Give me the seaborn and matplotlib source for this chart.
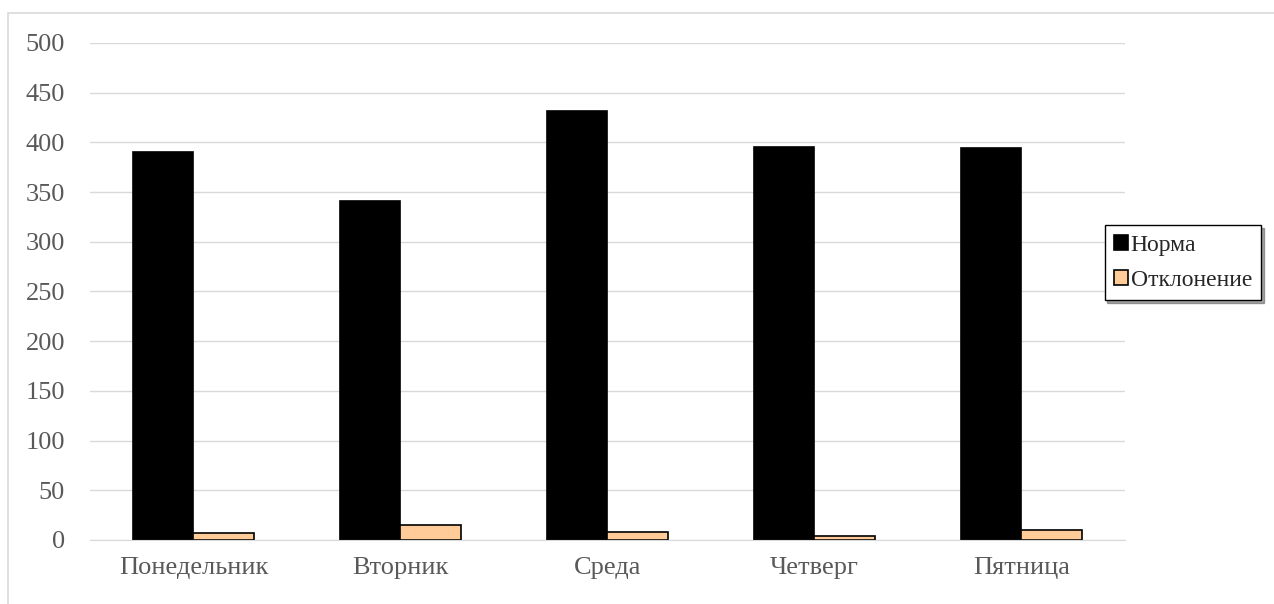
import pandas as pd
import matplotlib
matplotlib.use("Agg")
import matplotlib.pyplot as plt
import seaborn as sns
from matplotlib.patches import Rectangle

# данные с графика
days = ["Понедельник", "Вторник", "Среда", "Четверг", "Пятница"]
norma = [390, 341, 431, 395, 394]
otkl = [7, 15, 8, 4, 10]
series = ["Норма", "Отклонение"]
colors = ["#000000", "#FFCC99"]
yticks = [0, 50, 100, 150, 200, 250, 300, 350, 400, 450, 500]

df = pd.DataFrame({
    "day": days * 2,
    "value": norma + otkl,
    "series": [series[0]] * len(days) + [series[1]] * len(days),
})

sns.set_style("white")
plt.rcParams["font.family"] = ["Liberation Serif", "DejaVu Serif"]

fig = plt.figure(figsize=(12.74, 6.04), dpi=100)
ax = fig.add_axes([0.0706, 0.106, 0.8124, 0.823])

sns.barplot(data=df, x="day", y="value", hue="series", palette=colors,
            saturation=1, width=0.585, edgecolor="black", linewidth=1.2,
            ax=ax, legend=True)

ax.set_ylim(0, 500)
ax.set_yticks(yticks)
ax.yaxis.grid(True, color="#D9D9D9", linewidth=1)
ax.set_axisbelow(True)
ax.set_xlabel("")
ax.set_ylabel("")
for s in ["top", "right", "left"]:
    ax.spines[s].set_visible(False)
ax.spines["bottom"].set_color("#D9D9D9")
ax.tick_params(axis="both", length=0, labelsize=19, labelcolor="#595959")
ax.tick_params(axis="y", pad=18)
ax.tick_params(axis="x", pad=12)

handles, labels = ax.get_legend_handles_labels()
ax.legend(handles, labels, loc="upper left", bbox_to_anchor=(0.867, 0.627),
          bbox_transform=fig.transFigure, frameon=True, fancybox=False,
          shadow=True, edgecolor="black", fontsize=17,
          handlelength=0.6, handleheight=0.6, handletextpad=0.1,
          labelspacing=0.6, borderpad=0.4, borderaxespad=0)
ax.get_legend().get_frame().set_linewidth(1)

# рамка области диаграммы
fig.patches.append(Rectangle((8 / 1274, -0.1), 1.2, 1 - 13 / 604 + 0.1,
                             transform=fig.transFigure, fill=False,
                             edgecolor="#D9D9D9", linewidth=1.2))

fig.savefig("out.png", dpi=100)
